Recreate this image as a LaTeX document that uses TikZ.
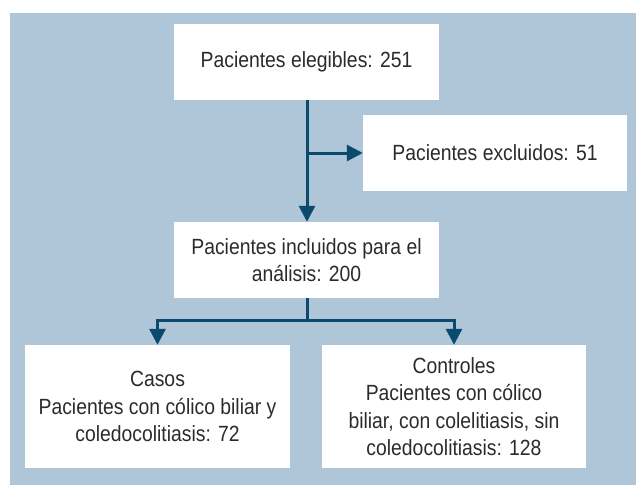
\documentclass[tikz,border=0pt]{standalone}
\usepackage{fontspec}
\setmainfont{Liberation Sans}[FakeStretch=0.88]
\definecolor{fondo}{HTML}{AFC5D8}
\definecolor{flecha}{HTML}{0B4A6F}
\definecolor{texto}{HTML}{2B2B2B}
\usetikzlibrary{arrows.meta}
\begin{document}
\begin{tikzpicture}[x=1pt, y=-1pt,
	caja/.style={rectangle, fill=white, inner sep=0pt, align=center, text=texto,
		font=\fontsize{22}{27.5}\selectfont},
	linea/.style={draw=flecha, line width=3pt},
	punta/.style={-{Triangle[length=16pt, width=16pt]}}]
		\useasboundingbox (0,0) rectangle (636,485);
		\fill [fondo] (10,13) rectangle (636,485);
		
		\node (elegibles) [caja, minimum width=265pt, minimum height=76pt] at (306.5,62) {Pacientes elegibles: 251};
		
		\node (excluidos) [caja, minimum width=264pt, minimum height=76pt] at (495,153) {Pacientes excluidos: 51};
		
		\node (incluidos) [caja, minimum width=265pt, minimum height=76pt] at (306.5,260) {Pacientes incluidos para el\\ análisis: 200};
		
		\node (casos) [caja, minimum width=265pt, minimum height=123pt] at (157.5,406.5) {Casos\\ Pacientes con cólico biliar y\\ coledocolitiasis: 72};
		
		\node (controles) [caja, minimum width=264pt, minimum height=123pt] at (454,406.5) {Controles\\ Pacientes con cólico\\ biliar, con colelitiasis, sin\\ coledocolitiasis: 128};
		
		\coordinate (rama) at (307,153);
		\coordinate (cruce) at (307,320);
		\draw [linea, punta] (elegibles.south -| rama) to (incluidos.north -| rama);
		\draw [linea, punta] (rama) to (excluidos.west);
		\draw [linea] (incluidos.south -| cruce) to (cruce);
		\draw [linea, punta] (cruce) -| (casos.north);
		\draw [linea, punta] (cruce) -| (controles.north);
		
		\end{tikzpicture}
\end{document}
